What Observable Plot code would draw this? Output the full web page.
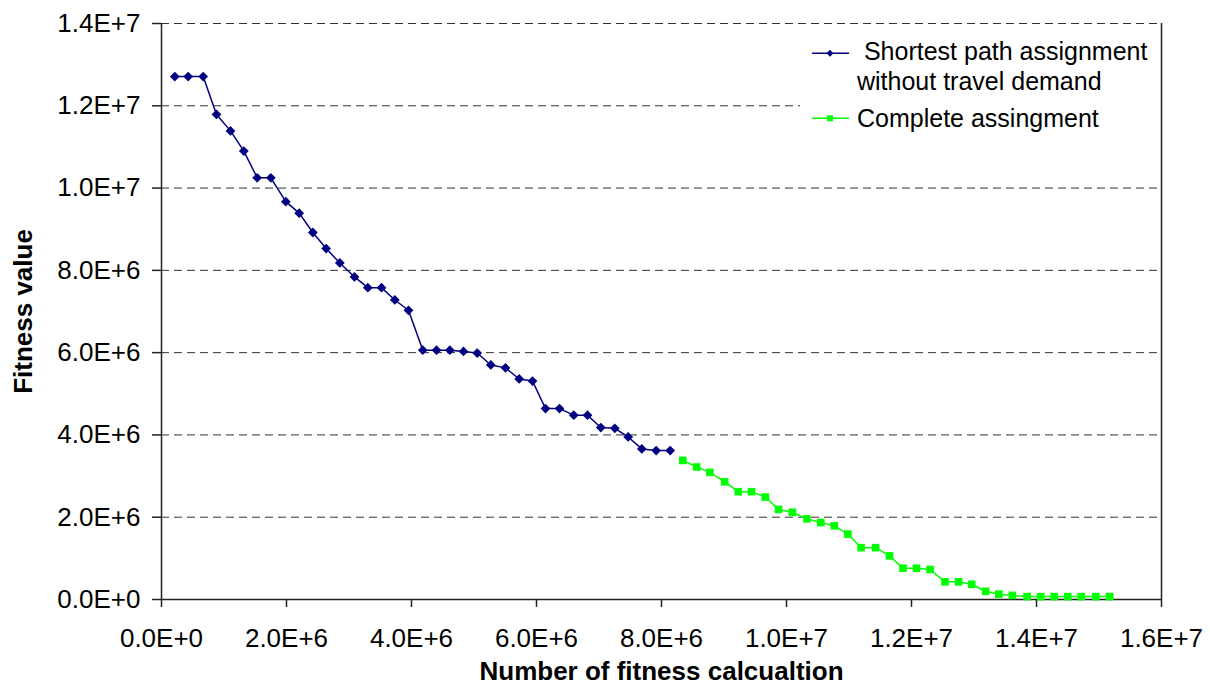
<!DOCTYPE html>
<html>
<head>
<meta charset="utf-8">
<script src="https://cdn.jsdelivr.net/npm/d3@7"></script>
<script src="https://cdn.jsdelivr.net/npm/@observablehq/plot@0.6"></script>
<style>
  html, body { margin: 0; padding: 0; background: white; }
  #wrap { position: relative; width: 1210px; height: 684px; font-family: 'Liberation Sans', Arial, sans-serif; }
  #legend { position: absolute; left: 800px; top: 24px; width: 358px; height: 128px; background: white; }
</style>
</head>
<body>
<div id="wrap"></div>
<script>
// Series 1: Shortest path assignment without travel demand
const blueX = [0.213e6,0.427e6,0.667e6,0.880e6,1.104e6,1.317e6,1.531e6,1.749e6,1.989e6,2.203e6,2.421e6,2.635e6,2.853e6,3.088e6,3.301e6,3.520e6,3.733e6,3.952e6,4.181e6,4.400e6,4.613e6,4.832e6,5.051e6,5.269e6,5.504e6,5.723e6,5.936e6,6.144e6,6.368e6,6.597e6,6.816e6,7.029e6,7.253e6,7.467e6,7.685e6,7.915e6,8.139e6];
const blueY = [12.71e6,12.71e6,12.71e6,11.79e6,11.39e6,10.90e6,10.25e6,10.25e6,9.67e6,9.39e6,8.92e6,8.53e6,8.18e6,7.84e6,7.58e6,7.58e6,7.28e6,7.03e6,6.06e6,6.06e6,6.06e6,6.03e6,5.99e6,5.70e6,5.63e6,5.36e6,5.31e6,4.64e6,4.64e6,4.48e6,4.48e6,4.18e6,4.16e6,3.95e6,3.66e6,3.62e6,3.62e6];
// Series 2: Complete assignment
const greenX = [8.341e6,8.563e6,8.774e6,9.011e6,9.229e6,9.440e6,9.661e6,9.872e6,10.094e6,10.326e6,10.549e6,10.765e6,10.982e6,11.194e6,11.426e6,11.648e6,11.864e6,12.080e6,12.298e6,12.536e6,12.752e6,12.963e6,13.186e6,13.397e6,13.613e6,13.851e6,14.067e6,14.283e6,14.501e6,14.717e6,14.949e6,15.171e6];
const greenY = [3.38e6,3.22e6,3.09e6,2.86e6,2.62e6,2.62e6,2.49e6,2.19e6,2.12e6,1.96e6,1.87e6,1.79e6,1.59e6,1.26e6,1.26e6,1.06e6,0.76e6,0.76e6,0.73e6,0.43e6,0.43e6,0.37e6,0.20e6,0.13e6,0.10e6,0.07e6,0.07e6,0.07e6,0.07e6,0.07e6,0.07e6,0.07e6];

const seriesNames = [" Shortest path assignment", "without travel demand", "Complete assingment"];
const xTicks = [0,2e6,4e6,6e6,8e6,10e6,12e6,14e6,16e6];
const xTickLabels = ["0.0E+0","2.0E+6","4.0E+6","6.0E+6","8.0E+6","1.0E+7","1.2E+7","1.4E+7","1.6E+7"];
const yTicks = [0,2e6,4e6,6e6,8e6,10e6,12e6,14e6];
const yTickLabels = ["0.0E+0","2.0E+6","4.0E+6","6.0E+6","8.0E+6","1.0E+7","1.2E+7","1.4E+7"];
const xTitle = "Number of fitness calcualtion";
const yTitle = "Fitness value";

const blue = blueX.map((x, i) => ({x, y: blueY[i]}));
const green = greenX.map((x, i) => ({x, y: greenY[i]}));
const BLUE = "#000080", GREEN = "#00FF00", AXIS = "#222";

const chart = Plot.plot({
  width: 1210,
  height: 684,
  marginLeft: 161,
  marginRight: 49,
  marginTop: 23,
  marginBottom: 85,
  style: {fontFamily: "'Liberation Sans', Arial, sans-serif", fontSize: "26px", color: "#000", background: "white"},
  x: {domain: [0, 1.6e7]},
  y: {domain: [0, 1.4e7]},
  marks: [
    Plot.ruleY(yTicks.slice(1), {stroke: "#333", strokeWidth: 1, strokeDasharray: "8,5"}),
    Plot.axisX({ticks: xTicks, tickFormat: d => xTickLabels[xTicks.indexOf(d)], tickSize: 8, tickPadding: 21, stroke: AXIS, strokeWidth: 1.5, fontSize: 26, label: null}),
    Plot.axisY({ticks: yTicks, tickFormat: d => yTickLabels[yTicks.indexOf(d)], tickSize: 9, tickPadding: 12, stroke: AXIS, strokeWidth: 1.5, fontSize: 26, label: null}),
    Plot.ruleX([0], {stroke: AXIS, strokeWidth: 1.5}),
    Plot.ruleX([1.6e7], {stroke: AXIS, strokeWidth: 1.5}),
    Plot.ruleY([0], {stroke: AXIS, strokeWidth: 1.5}),
    Plot.line(blue, {x: "x", y: "y", stroke: BLUE, strokeWidth: 1.5}),
    Plot.dot(blue, {x: "x", y: "y", symbol: "diamond2", r: 4.4, fill: BLUE, stroke: "none"}),
    Plot.line(green, {x: "x", y: "y", stroke: GREEN, strokeWidth: 1.5}),
    Plot.dot(green, {x: "x", y: "y", symbol: "square", r: 4.3, fill: GREEN, stroke: "none"}),
    Plot.text([xTitle], {frameAnchor: "bottom", textAnchor: "middle", lineAnchor: "bottom", dy: 80, fontSize: 26, fontWeight: "bold", fill: "#000"}),
    Plot.text([yTitle], {frameAnchor: "left", textAnchor: "middle", lineAnchor: "middle", dx: -138, rotate: -90, fontSize: 26, fontWeight: "bold", fill: "#000"})
  ]
});

const wrap = document.getElementById("wrap");
wrap.appendChild(chart);

// Legend (inside plot area, top-right)
const lg = document.createElement("div");
lg.id = "legend";
lg.innerHTML = `
<svg width="358" height="128" style="font-family:'Liberation Sans', Arial, sans-serif; font-size:25px;">
  <line x1="12" y1="29.3" x2="49" y2="29.3" stroke="${BLUE}" stroke-width="1.5"/>
  <path d="M30,25.8 L33.5,29.3 L30,32.8 L26.5,29.3 Z" fill="${BLUE}"/>
  <text x="57" y="36" fill="#000" xml:space="preserve" style="white-space:pre">${seriesNames[0]}</text>
  <text x="57" y="66" fill="#000">${seriesNames[1]}</text>
  <line x1="12" y1="94.3" x2="49" y2="94.3" stroke="${GREEN}" stroke-width="1.5"/>
  <rect x="27" y="91.3" width="6" height="6" fill="${GREEN}"/>
  <text x="57" y="102.7" fill="#000">${seriesNames[2]}</text>
</svg>`;
wrap.appendChild(lg);
</script>
</body>
</html>
